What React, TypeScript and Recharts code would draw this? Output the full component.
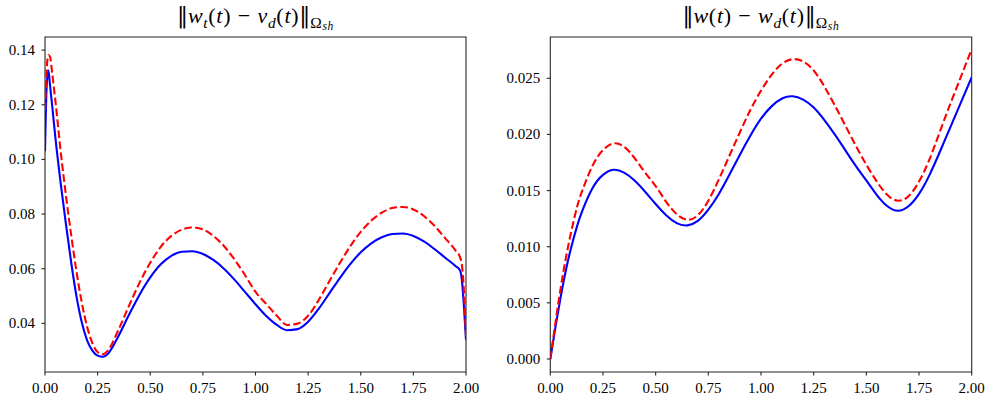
import React from "react";
import { LineChart, Line, XAxis, YAxis, ReferenceArea } from "recharts";

// ---- Left panel data: ||w_t(t) - v_d(t)|| ----
const T_LEFT = [0, 0.008, 0.016, 0.024, 0.035, 0.05, 0.075, 0.1, 0.125, 0.15, 0.175, 0.2, 0.225, 0.25, 0.275, 0.3,
  0.35, 0.4, 0.45, 0.5, 0.55, 0.6, 0.65, 0.7, 0.75, 0.8, 0.85, 0.9, 0.95, 1.0, 1.05, 1.1, 1.15, 1.2, 1.25, 1.3,
  1.35, 1.4, 1.45, 1.5, 1.55, 1.6, 1.65, 1.7, 1.75, 1.8, 1.85, 1.9, 1.95, 1.97, 1.98, 1.99, 2.0];
const WT_ERR = [0.103, 0.127, 0.1326, 0.127, 0.119, 0.1075, 0.091, 0.076, 0.062, 0.0497, 0.0403, 0.0338, 0.03, 0.0282, 0.0278, 0.029,
  0.0355, 0.0433, 0.0506, 0.0568, 0.0616, 0.0647, 0.0662, 0.0664, 0.0654, 0.0632, 0.06, 0.056, 0.0515, 0.047, 0.0428, 0.0395, 0.0375, 0.0379, 0.0406, 0.0453,
  0.0509, 0.0565, 0.0617, 0.066, 0.0693, 0.0715, 0.0727, 0.0729, 0.072, 0.07, 0.0672, 0.0641, 0.061, 0.0596, 0.0562, 0.0465, 0.034];
const VD_ERR = [0.118, 0.133, 0.1382, 0.1375, 0.131, 0.121, 0.1025, 0.0865, 0.072, 0.0588, 0.0475, 0.0388, 0.0328, 0.0295, 0.0287, 0.0302,
  0.0378, 0.0466, 0.055, 0.0622, 0.068, 0.072, 0.0743, 0.0751, 0.0744, 0.072, 0.0683, 0.0634, 0.0577, 0.0515, 0.0472, 0.0429, 0.0394, 0.0399, 0.0428, 0.0485,
  0.0553, 0.062, 0.0682, 0.0735, 0.0776, 0.0805, 0.0822, 0.0826, 0.0817, 0.0793, 0.0757, 0.0713, 0.0667, 0.0645, 0.0618, 0.052, 0.0352];

// ---- Right panel data: ||w(t) - w_d(t)|| ----
const T_RIGHT = [0, 0.025, 0.05, 0.075, 0.1, 0.125, 0.15, 0.2, 0.25, 0.3, 0.35, 0.4, 0.45, 0.5, 0.55, 0.6, 0.65, 0.7,
  0.75, 0.8, 0.85, 0.9, 0.95, 1.0, 1.05, 1.1, 1.15, 1.2, 1.25, 1.3, 1.35, 1.4, 1.45, 1.5, 1.55, 1.6, 1.65, 1.7,
  1.75, 1.8, 1.85, 1.9, 1.95, 2.0];
const W_ERR = [0, 0.0029, 0.0056, 0.008, 0.01, 0.0117, 0.0131, 0.0152, 0.0164, 0.01685, 0.0166, 0.0159, 0.0149, 0.0138, 0.0128, 0.0121, 0.0119, 0.0123,
  0.0133, 0.0147, 0.0164, 0.0182, 0.0199, 0.0214, 0.0225, 0.0232, 0.0234, 0.0231, 0.0224, 0.0213, 0.02, 0.0186, 0.0172, 0.0159, 0.0146, 0.0136, 0.0132, 0.0136,
  0.0147, 0.0164, 0.0185, 0.0207, 0.0229, 0.0251];
const WD_ERR = [0, 0.0033, 0.0064, 0.0091, 0.0114, 0.0134, 0.0149, 0.0172, 0.0186, 0.0192, 0.0189, 0.0179, 0.0166, 0.0154, 0.014, 0.0129, 0.0124, 0.0128,
  0.0141, 0.016, 0.0181, 0.0202, 0.0222, 0.0239, 0.0253, 0.0263, 0.0267, 0.0265, 0.0257, 0.0243, 0.0226, 0.0208, 0.019, 0.0173, 0.0158, 0.0146, 0.0141, 0.0145,
  0.0158, 0.0178, 0.0203, 0.0228, 0.0252, 0.0276];

const X_TICKS = [0, 0.25, 0.5, 0.75, 1.0, 1.25, 1.5, 1.75, 2.0];
const Y_TICKS_LEFT = [0.04, 0.06, 0.08, 0.1, 0.12, 0.14];
const Y_TICKS_RIGHT = [0, 0.005, 0.01, 0.015, 0.02, 0.025];
const Y_DOMAIN_LEFT: [number, number] = [0.0222, 0.1448];
const Y_DOMAIN_RIGHT: [number, number] = [-0.00116, 0.02868];

const leftData = T_LEFT.map((t, i) => ({ t, a: WT_ERR[i], b: VD_ERR[i] }));
const rightData = T_RIGHT.map((t, i) => ({ t, a: W_ERR[i], b: WD_ERR[i] }));

const FONT = "'Liberation Serif', 'DejaVu Serif', serif";
const AXIS = "#262626";

const XTick = (props: any) => {
  const { x, y, payload } = props;
  return (
    <text x={x} y={y + 17.5} textAnchor="middle" fontFamily={FONT} fontSize={15} fill="#000">
      {Number(payload.value).toFixed(2)}
    </text>
  );
};

const makeYTick = (digits: number) => (props: any) => {
  const { x, y, payload } = props;
  return (
    <text x={x - 6.5} y={y + 5} textAnchor="end" fontFamily={FONT} fontSize={15} fill="#000">
      {Number(payload.value).toFixed(digits)}
    </text>
  );
};

const Sub = ({ children, small }: { children: React.ReactNode; small?: boolean }) => (
  <span style={{ position: "relative", top: small ? "0.25em" : "0.3em", fontSize: small ? "0.75em" : "0.7em" }}>{children}</span>
);
const Bar2 = () => <span style={{ fontFamily: "'DejaVu Serif', serif", letterSpacing: 0 }}>‖</span>;
const Minus = () => <span style={{ margin: "0 0.3em" }}>−</span>;

const Panel = ({ data, yDomain, yTicks, digits, yWidth, right, curve }: any) => (
  <LineChart width={495} height={398} data={data} margin={{ top: 37, right, bottom: 0, left: 0 }}>
    <XAxis
      dataKey="t"
      type="number"
      domain={[0, 2]}
      ticks={X_TICKS}
      height={26}
      axisLine={false}
      tickLine={{ stroke: AXIS, strokeWidth: 1.1 }}
      tickSize={3.5}
      tickMargin={0}
      tick={<XTick />}
      allowDataOverflow
      interval={0}
    />
    <YAxis
      type="number"
      domain={yDomain}
      ticks={yTicks}
      width={yWidth}
      axisLine={false}
      tickLine={{ stroke: AXIS, strokeWidth: 1.1 }}
      tickSize={3.5}
      tickMargin={0}
      tick={makeYTick(digits)}
      allowDataOverflow
      interval={0}
    />
    <Line dataKey="a" type={curve} stroke="#0000ff" strokeWidth={2.1} dot={false} isAnimationActive={false} />
    <Line dataKey="b" type={curve} stroke="#ff0000" strokeWidth={2.1} strokeDasharray="7.7 3.3" dot={false} isAnimationActive={false} />
    <ReferenceArea x1={0} x2={2} y1={yDomain[0]} y2={yDomain[1]} fill="none" fillOpacity={0} stroke={AXIS} strokeWidth={1.1} ifOverflow="visible" />
  </LineChart>
);

const titleStyle: React.CSSProperties = {
  position: "absolute",
  top: 5,
  fontFamily: FONT,
  fontSize: 22,
  lineHeight: "22px",
  letterSpacing: "0.7px",
  textAlign: "center",
  color: "#000",
  whiteSpace: "nowrap",
};

export default function App() {
  return (
    <div style={{ position: "absolute", left: 0, top: 0, width: 990, height: 398, background: "#fff", overflow: "hidden" }}>
      <div style={{ position: "absolute", left: 0, top: 0 }}>
        <Panel data={leftData} yDomain={Y_DOMAIN_LEFT} yTicks={Y_TICKS_LEFT} digits={2} yWidth={45} right={29} curve="monotone" />
      </div>
      <div style={{ position: "absolute", left: 495, top: 0 }}>
        <Panel data={rightData} yDomain={Y_DOMAIN_RIGHT} yTicks={Y_TICKS_RIGHT} digits={3} yWidth={55.3} right={18.3} curve="natural" />
      </div>
      <div style={{ ...titleStyle, left: 45, width: 421 }}>
        <Bar2 /><i>w</i><Sub><i>t</i></Sub>(<i>t</i>)<Minus /><i>v</i><Sub><i>d</i></Sub>(<i>t</i>)<Bar2 /><Sub>Ω<Sub small><i>sh</i></Sub></Sub>
      </div>
      <div style={{ ...titleStyle, left: 550.3, width: 421.4 }}>
        <Bar2 /><i>w</i>(<i>t</i>)<Minus /><i>w</i><Sub><i>d</i></Sub>(<i>t</i>)<Bar2 /><Sub>Ω<Sub small><i>sh</i></Sub></Sub>
      </div>
    </div>
  );
}
